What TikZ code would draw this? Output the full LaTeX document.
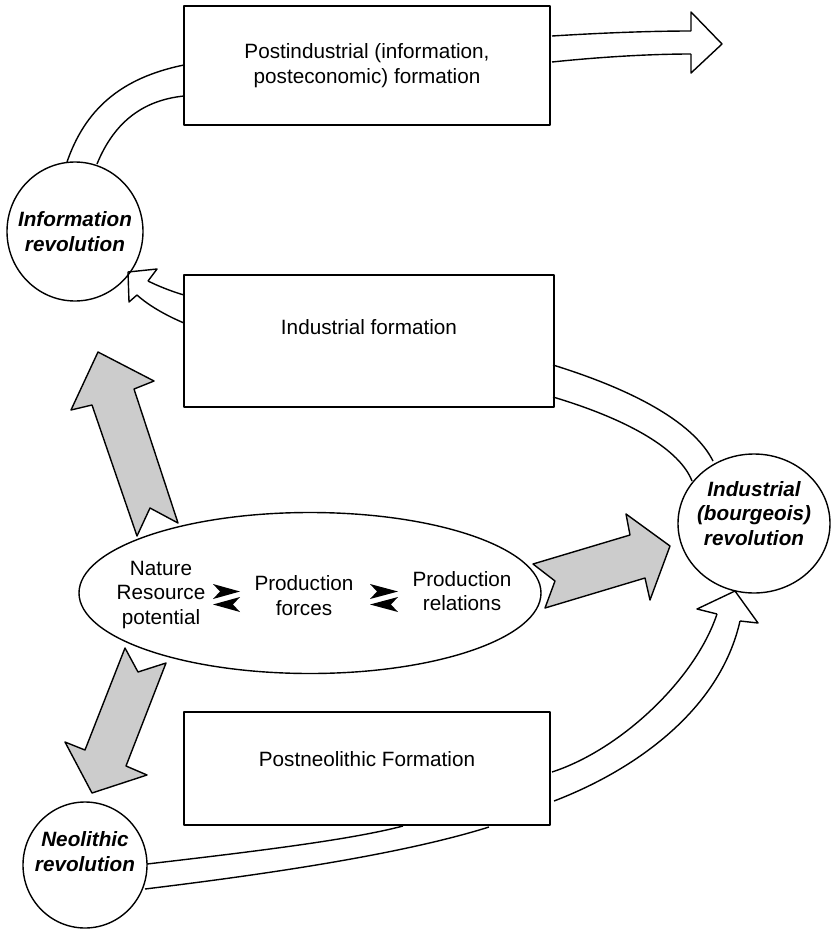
\documentclass[tikz,border=0pt]{standalone}
\usepackage{fontspec}
\setmainfont{Liberation Sans}
\usetikzlibrary{shapes.geometric}

\begin{document}
\begin{tikzpicture}[x=1pt,y=-1pt,line width=1.4pt,line join=round,
    font=\fontsize{20.7}{24.5}\selectfont,
    formation/.style={draw,rectangle,align=center,inner sep=0pt},
    revolution/.style={draw,ellipse,align=center,inner ysep=0pt,inner xsep=-45pt,
       font=\fontsize{20.7}{24.5}\selectfont\bfseries\itshape},
    push/.style={fill=gray!40}]
  \useasboundingbox (0,0) rectangle (831,929);
  % formations
  \node[formation,minimum width=366pt,minimum height=119pt] (postind) at (367,65.5)
     {Postindustrial (information,\\posteconomic) formation};
  \node[formation,minimum width=370pt,minimum height=132pt,text depth=28pt] (indform) at (369,341)
     {Industrial formation};
  \node[formation,minimum width=366pt,minimum height=113pt,text depth=19pt] (neoform) at (367,768.5)
     {Postneolithic Formation};
  % revolutions
  \node[revolution,minimum width=136pt,minimum height=139pt] (inforev) at (75,231.5)
     {Information\\revolution};
  \node[revolution,minimum width=152pt,minimum height=139pt,text depth=21pt] (indrev) at (754,523.5)
     {Industrial\\(bourgeois)\\revolution};
  \node[revolution,minimum width=124pt,minimum height=126pt,text depth=27pt] (neorev) at (85,865)
     {Neolithic\\revolution};
  % core: nature / forces / relations
  \node[draw,ellipse,minimum width=462pt,minimum height=161pt,inner sep=0pt] (core) at (310,593) {};
  \node[align=center] (nature) at (161,595) {Nature\\Resource\\potential};
  \node[align=center] (forces) at (304,595.5) {Production\\forces};
  \node[align=center] (relations) at (462,591) {Production\\relations};
  \foreach \x/\w in {213/27,370/28} {
     \fill (\x,584) -- (\x+\w,591.5) -- (\x,599) -- (\x+7,591.5) -- cycle;
     \fill (\x+\w,597) -- (\x,604.5) -- (\x+\w,612) -- (\x+\w-7,604.5) -- cycle;
  }
  % --- hollow bands of the spiral ---
  % Information revolution -> postindustrial formation
  \draw (67,162) .. controls (85,110) and (120,78) .. (184,65);
  \draw (97,164) .. controls (115,120) and (145,100) .. (184,96);
  % postindustrial formation -> further
  \draw (552,36) .. controls (600,33) and (650,31) .. (691,31);
  \draw (552,62) .. controls (600,57) and (650,54) .. (691,54);
  \draw (691,31) -- (691,12) -- (722,44) -- (691,73) -- (691,54);
  % industrial formation -> information revolution
  \draw (184,295) .. controls (170,291) and (156,285) .. (148,281);
  \draw (184,323) .. controls (165,315) and (148,305) .. (137,295);
  \draw (148,281) -- (157,269) -- (128,272) -- (129,302) -- (137,295);
  % industrial revolution -> industrial formation
  \draw (553,365) .. controls (640,392) and (695,425) .. (713,461);
  \draw (553,397) .. controls (630,420) and (680,450) .. (692,481);
  % postneolithic formation -> industrial revolution
  \draw (552,772) .. controls (620,750) and (695,680) .. (717,614);
  \draw (554,801) .. controls (635,770) and (720,710) .. (740,621);
  \draw (717,614) -- (697,609) -- (735,591) -- (758,623) -- (740,621);
  % neolithic revolution -> postneolithic formation
  \draw (147,864) .. controls (250,852) and (350,840) .. (403,826);
  \draw (145,889) .. controls (260,875) and (400,855) .. (489,827);
  % --- grey arrows out of the core ---
  \filldraw[push] (137,536) -- (92,405) -- (71,410) -- (98,352) -- (154,381)
     -- (134,389) -- (178,523) -- (150,508) -- cycle;
  \filldraw[push] (533,564) -- (630,535) -- (626,514) -- (670,546) -- (650,600)
     -- (645,578) -- (545,608) -- (555,581) -- cycle;
  \filldraw[push] (125,648) -- (138,672) -- (166,663) -- (126,766) -- (147,775)
     -- (92,793) -- (65,742) -- (85,750) -- cycle;
\end{tikzpicture}
\end{document}
